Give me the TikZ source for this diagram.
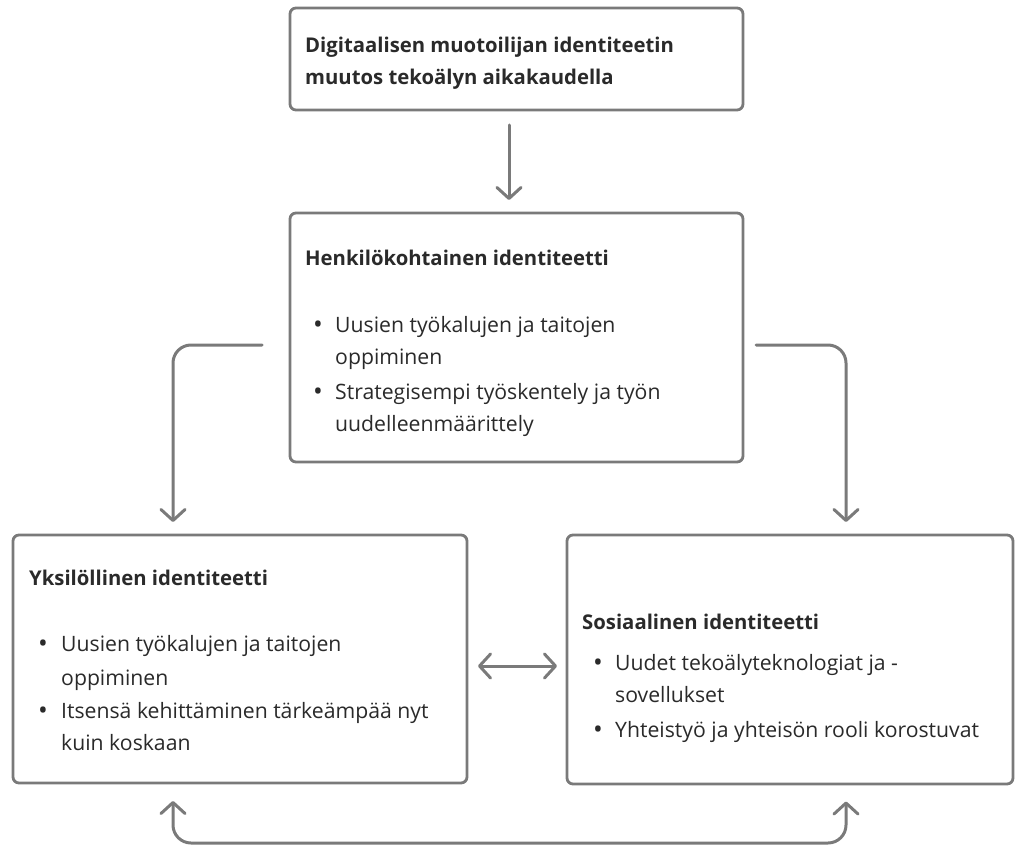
\documentclass[tikz,border=0pt]{standalone}
\usepackage{fontspec}
\setmainfont{Open Sans}
\usetikzlibrary{arrows.meta,calc}
\definecolor{linegray}{HTML}{7A7A7A}
\definecolor{txt}{HTML}{2A2A2A}
\tikzset{
  box/.style={draw=linegray,line width=2.8pt,rounded corners=6pt,outer sep=0pt,inner sep=0pt,fill=white},
  ttl/.style={anchor=base west,inner sep=0pt,text=txt,font=\fontsize{20.3}{24}\selectfont\bfseries},
  bt/.style={anchor=base west,inner sep=0pt,text=txt,font=\fontsize{21.2}{24}\selectfont},
  dot/.style={anchor=base,inner sep=0pt,text=txt,font=\fontsize{26}{24}\selectfont},
  conn/.style={draw=linegray,line width=3pt,line cap=round,line join=round,rounded corners=18pt},
  tip/.tip={Straight Barb[length=11pt,width=24pt,line cap=round,line join=round]}
}
\begin{document}
\begin{tikzpicture}[x=1pt,y=-1pt]
\useasboundingbox (0,0) rectangle (1016,845);
% boxes
\node[box,minimum width=453pt,minimum height=102pt] (top) at (516.5,59) {};
\node[box,minimum width=453pt,minimum height=249pt] (mid) at (516.5,337.5) {};
\node[box,minimum width=454pt,minimum height=248pt] (lbox) at (240,659) {};
\node[box,minimum width=446pt,minimum height=249pt] (rbox) at (790,659.5) {};
% top text
\node[ttl] (t1) at (305,53) {Digitaalisen muotoilijan identiteetin};
\node[ttl] (t2) at (305,85) {muutos tekoälyn aikakaudella};
% middle text
\node[ttl] (m0) at (305,265) {Henkilökohtainen identiteetti};
\node[dot] (mb1) at (318,333) {•};
\node[bt] (m1) at (335,332) {Uusien työkalujen ja taitojen};
\node[bt] (m2) at (335,364) {oppiminen};
\node[dot] (mb2) at (318,400) {•};
\node[bt] (m3) at (335,399) {Strategisempi työskentely ja työn};
\node[bt] (m4) at (335,431) {uudelleenmäärittely};
% left text
\node[ttl] (l0) at (29,585) {Yksilöllinen identiteetti};
\node[dot] (lb1) at (43,652) {•};
\node[bt] (l1) at (61,651) {Uusien työkalujen ja taitojen};
\node[bt] (l2) at (61,685) {oppiminen};
\node[dot] (lb2) at (43,719) {•};
\node[bt] (l3) at (61,718) {Itsensä kehittäminen tärkeämpää nyt};
\node[bt] (l4) at (61,750) {kuin koskaan};
% right text
\node[ttl] (r0) at (582,629) {Sosiaalinen identiteetti};
\node[dot] (rb1) at (598,671) {•};
\node[bt] (r1) at (615,670) {Uudet tekoälyteknologiat ja -};
\node[bt] (r2) at (615,702) {sovellukset};
\node[dot] (rb2) at (598,738) {•};
\node[bt] (r3) at (615,737) {Yhteistyö ja yhteisön rooli korostuvat};
% connectors
\draw[conn,-tip] ($(top.south)+(-7.5,15)$) -- ($(mid.north)+(-7.5,-13)$);
\draw[conn,-tip] ($(mid.west)+(-28,7.5)$) -| ($(lbox.north)+(-67,-13)$);
\draw[conn,-tip] ($(mid.east)+(13,7.5)$) -| ($(rbox.north)+(56,-13)$);
\draw[conn,tip-tip] ($(lbox.east)+(11,7)$) -- ($(rbox.west)+(-10,6.5)$);
\draw[conn,tip-tip] ($(lbox.south)+(-67,18)$) -- ++(0,42) -| ($(rbox.south)+(56,17.5)$);
\end{tikzpicture}
\end{document}
